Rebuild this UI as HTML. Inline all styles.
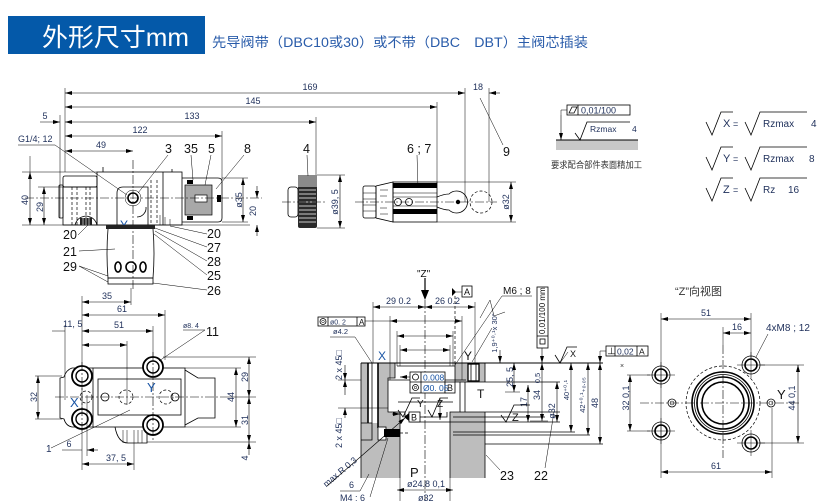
<!DOCTYPE html>
<html><head><meta charset="utf-8">
<style>
html,body{margin:0;padding:0;background:#fff;}
svg{display:block;}
text{font-family:"Liberation Sans","Noto Sans CJK SC",sans-serif;}
.l{stroke:#000;stroke-width:.8;fill:none}
.k{stroke:#000;stroke-width:1.6;fill:none}
.th{stroke:#000;stroke-width:.5;fill:none}
.g{stroke:#888;stroke-width:.8;fill:none}
.c{stroke:#000;stroke-width:.6;fill:none;stroke-dasharray:9 2 2 2}
.h{stroke:#000;stroke-width:.7;fill:none;stroke-dasharray:3 2}
.dm{stroke:#000;stroke-width:.6;fill:none;marker-start:url(#ar);marker-end:url(#ar)}
.da{stroke:#000;stroke-width:.6;fill:none;marker-end:url(#ar)}
.d{font-size:9px;fill:#1e2f5a}
.s{font-size:7.5px;fill:#1e2f5a}
.p{font-size:12.5px;fill:#111}
.b{fill:#1a55a5}
</style></head><body>
<svg width="827" height="501" viewBox="0 0 827 501">
<defs><marker id="ar" markerUnits="userSpaceOnUse" markerWidth="7" markerHeight="4" refX="7" refY="2" orient="auto-start-reverse"><path d="M0,0L7,2L0,4z" fill="#000"/></marker></defs>

<!-- HEADER -->
<rect x="8" y="16" width="197" height="38" fill="#0459a9"/>
<text x="42" y="46" font-size="25" fill="#fff" textLength="147" lengthAdjust="spacingAndGlyphs">外形尺寸mm</text>
<text x="212" y="47" font-size="13.5" fill="#2a5caa" textLength="376" lengthAdjust="spacingAndGlyphs">先导阀带（DBC10或30）或不带（DBC　DBT）主阀芯插装</text>

<!-- ===== TOP VIEW DIMENSIONS ===== -->
<line class="th" x1="65" y1="88" x2="65" y2="172"/>
<line class="dm" x1="65" y1="93" x2="465" y2="93"/><text class="d" x="310" y="90" text-anchor="middle">169</text>
<line class="dm" x1="65" y1="107" x2="437" y2="107"/><text class="d" x="253" y="104" text-anchor="middle">145</text>
<line class="dm" x1="65" y1="122" x2="316" y2="122"/><text class="d" x="192" y="119" text-anchor="middle">133</text>
<line class="dm" x1="65" y1="136" x2="222" y2="136"/><text class="d" x="140" y="133" text-anchor="middle">122</text>
<line class="dm" x1="65" y1="151" x2="133" y2="151"/><text class="d" x="101" y="148" text-anchor="middle">49</text>
<line class="da" x1="40" y1="122" x2="60" y2="122"/><text class="d" x="45" y="119" text-anchor="middle">5</text>
<line class="th" x1="60" y1="115" x2="60" y2="218"/>
<line class="th" x1="465" y1="88" x2="465" y2="202"/>
<line class="th" x1="489" y1="88" x2="489" y2="202"/>
<line class="th" x1="437" y1="102" x2="437" y2="182"/>
<line class="th" x1="316" y1="117" x2="316" y2="175"/>
<line class="th" x1="222" y1="131" x2="222" y2="180"/>
<line class="da" x1="500" y1="93" x2="489" y2="93"/><text class="d" x="478" y="90" text-anchor="middle">18</text>
<text class="p" x="503" y="156">9</text><line class="th" x1="503" y1="145" x2="480" y2="98"/>
<text x="18" y="142" font-size="9" fill="#1e2f5a">G1/4; 12</text>
<polyline class="th" points="18,145 55,145 127,195"/>

<!-- left dims 40 / 29 -->
<line class="th" x1="22" y1="172" x2="97" y2="172"/>
<line class="th" x1="22" y1="225" x2="250" y2="225"/>
<line class="th" x1="38" y1="187" x2="63" y2="187"/>
<line class="th" x1="30" y1="156" x2="30" y2="172"/>
<line class="dm" x1="30" y1="172" x2="30" y2="225"/>
<text class="d" x="25" y="203" text-anchor="middle" transform="rotate(-90 25 200)">40</text>
<line class="dm" x1="44" y1="187" x2="44" y2="225"/>
<text class="d" x="40" y="210" text-anchor="middle" transform="rotate(-90 40 207)">29</text>
<!-- right dims ø35 / 20 -->
<line class="th" x1="222" y1="178" x2="248" y2="178"/>
<line class="th" x1="222" y1="222" x2="248" y2="222"/>
<line class="dm" x1="243" y1="178" x2="243" y2="222"/>
<text class="d" x="239" y="203" text-anchor="middle" transform="rotate(-90 239 200)">ø35</text>
<line class="da" x1="257" y1="186" x2="257" y2="198"/>
<line class="da" x1="257" y1="236" x2="257" y2="225"/>
<text class="d" x="253" y="214" text-anchor="middle" transform="rotate(-90 253 211)">20</text>

<!-- ===== TOP VIEW BODY ===== -->
<rect x="97" y="172" width="85" height="53" class="l"/>
<rect x="63" y="176" width="34" height="11" rx="2" class="l"/>
<rect x="63" y="187" width="34" height="38" class="l"/>
<rect x="59" y="185" width="4" height="33" rx="1" class="l"/>
<line class="l" x1="163" y1="172" x2="163" y2="225"/>
<line class="h" x1="72" y1="187" x2="72" y2="225"/><line class="h" x1="77" y1="187" x2="77" y2="225"/>
<line class="h" x1="86" y1="187" x2="86" y2="225"/><line class="h" x1="90" y1="187" x2="90" y2="225"/>
<line class="h" x1="151" y1="180" x2="151" y2="225"/><line class="h" x1="157" y1="180" x2="157" y2="225"/>
<path class="l" d="M117,225 L117,193 Q117,187 123,187 L148,187 L148,225"/>
<path class="l" d="M137,217 A9,9 0 0 0 146,207"/>
<circle cx="133" cy="198" r="5" class="k"/>
<circle cx="133" cy="198" r="8" class="th"/>
<line class="l" x1="103" y1="172" x2="103" y2="167"/><line class="l" x1="172" y1="172" x2="172" y2="169"/>
<line class="th" x1="160" y1="215" x2="160" y2="225"/><line class="th" x1="165" y1="217" x2="165" y2="225"/><line class="th" x1="170" y1="219" x2="170" y2="225"/>
<path class="l" d="M75,225 Q77,217 86,216 Q95,217 97,225"/>
<rect x="80" y="218" width="12" height="7" fill="#222"/>
<line x1="83" y1="218" x2="83" y2="225" stroke="#fff" stroke-width=".6"/><line x1="86" y1="218" x2="86" y2="225" stroke="#fff" stroke-width=".6"/><line x1="89" y1="218" x2="89" y2="225" stroke="#fff" stroke-width=".6"/>
<text x="120" y="229" font-size="12" class="b">Y</text>
<!-- cap -->
<path class="l" d="M182,178 L218,178 Q222,178 222,182 L222,218 Q222,222 218,222 L182,222"/>
<rect x="185" y="185" width="27" height="30" fill="#a8a8a8" stroke="#000" stroke-width=".7"/>
<rect x="195" y="195" width="12" height="7" fill="#fff" stroke="#000" stroke-width=".7"/>
<rect x="217" y="195" width="4" height="7" fill="#000"/>
<rect x="187" y="180" width="6" height="4" fill="#000"/><rect x="187" y="216" width="6" height="4" fill="#000"/>
<line class="c" x1="25" y1="198" x2="262" y2="198"/>
<line class="c" x1="133" y1="160" x2="133" y2="290"/>
<!-- cartridge -->
<rect x="106" y="225" width="49" height="4" fill="#222"/>
<path class="l" d="M108,229 Q106,253 108,278 L153,278 Q155,253 153,229"/>
<rect x="108" y="278" width="45" height="6" class="l"/>
<ellipse cx="118" cy="267" rx="3" ry="5" class="k"/>
<circle cx="131" cy="267" r="5" class="k"/>
<ellipse cx="143" cy="267" rx="3" ry="5" class="k"/>
<!-- top-view labels -->
<text class="p" x="165" y="153">3</text><line class="th" x1="168" y1="155" x2="138" y2="193"/>
<text class="p" x="184" y="153">35</text><line class="th" x1="191" y1="155" x2="193" y2="180"/>
<text class="p" x="208" y="153">5</text><line class="th" x1="211" y1="155" x2="205" y2="185"/>
<text class="p" x="244" y="153">8</text><line class="th" x1="244" y1="155" x2="216" y2="189"/>
<text class="p" x="207" y="238">20</text><line class="th" x1="207" y1="234" x2="170" y2="226"/>
<text class="p" x="207" y="252">27</text><line class="th" x1="207" y1="247" x2="155" y2="228"/>
<text class="p" x="207" y="266">28</text><line class="th" x1="207" y1="261" x2="155" y2="231"/>
<text class="p" x="207" y="280">25</text><line class="th" x1="207" y1="275" x2="154" y2="234"/>
<text class="p" x="207" y="295">26</text><line class="th" x1="207" y1="290" x2="153" y2="283"/>
<text class="p" x="63" y="239">20</text><line class="th" x1="78" y1="235" x2="88" y2="225"/>
<text class="p" x="63" y="256">21</text><line class="th" x1="79" y1="251" x2="115" y2="249"/>
<text class="p" x="63" y="271">29</text><line class="th" x1="79" y1="266" x2="108" y2="276"/><line class="th" x1="79" y1="266" x2="108" y2="282"/>

<!-- knob 4 -->
<rect x="288" y="187" width="10" height="30" rx="3" class="l"/>
<rect x="298" y="175" width="19" height="53" rx="2" fill="#2a2a2a"/>
<rect x="298" y="175" width="19" height="12" fill="#8a8a8a"/>
<g stroke="#fff" stroke-width=".7">
<line x1="299" y1="190" x2="316" y2="190"/><line x1="299" y1="194" x2="316" y2="194"/><line x1="299" y1="198" x2="316" y2="198"/><line x1="299" y1="202" x2="316" y2="202"/><line x1="299" y1="206" x2="316" y2="206"/><line x1="299" y1="210" x2="316" y2="210"/><line x1="299" y1="214" x2="316" y2="214"/><line x1="299" y1="218" x2="316" y2="218"/><line x1="299" y1="222" x2="316" y2="222"/></g>
<line class="c" x1="282" y1="202" x2="326" y2="202"/>
<line class="th" x1="317" y1="175" x2="345" y2="175"/><line class="th" x1="317" y1="228" x2="345" y2="228"/>
<line class="dm" x1="340" y1="175" x2="340" y2="228"/>
<text class="d" x="335" y="205" text-anchor="middle" transform="rotate(-90 335 202)">ø39, 5</text>
<text class="p" x="303" y="153">4</text><line class="th" x1="307" y1="155" x2="308" y2="176"/>

<!-- knob 6;7 -->
<rect x="363" y="186" width="13" height="32" rx="2" class="l"/>
<line class="th" x1="363" y1="193" x2="376" y2="193"/><line class="th" x1="363" y1="199" x2="376" y2="199"/><line class="th" x1="363" y1="205" x2="376" y2="205"/><line class="th" x1="363" y1="211" x2="376" y2="211"/>
<path class="l" d="M376,186 L393,182 L393,222 L376,218Z"/>
<line class="th" x1="380" y1="190" x2="388" y2="190"/><line class="th" x1="380" y1="196" x2="387" y2="196"/><line class="th" x1="380" y1="208" x2="387" y2="208"/><line class="th" x1="380" y1="214" x2="388" y2="214"/>
<rect x="393" y="182" width="44" height="40" class="l"/>
<rect x="393" y="183" width="44" height="5" fill="#000"/>
<rect x="393" y="209" width="44" height="5" fill="#000"/>
<line class="th" x1="393" y1="193" x2="437" y2="193"/><line class="th" x1="393" y1="197" x2="437" y2="197"/><line class="th" x1="393" y1="206" x2="437" y2="206"/>
<circle cx="398" cy="202" r="3.5" class="l"/><circle cx="409" cy="202" r="3.5" class="l"/>
<path class="l" d="M437,197 Q444,194 449,194 A11,11 0 1 1 449,210 Q444,210 437,207"/>
<circle cx="458" cy="202" r="2.2" fill="#000"/>
<circle cx="481" cy="202" r="11" class="h"/>
<line class="c" x1="355" y1="202" x2="497" y2="202"/>
<line class="th" x1="437" y1="182" x2="516" y2="182"/><line class="th" x1="437" y1="222" x2="516" y2="222"/>
<line class="dm" x1="511" y1="182" x2="511" y2="222"/>
<text class="d" x="506" y="205" text-anchor="middle" transform="rotate(-90 506 202)">ø32</text>
<text class="p" x="407" y="153">6 ; 7</text><line class="th" x1="417" y1="155" x2="418" y2="188"/>

<!-- ===== UPPER RIGHT NOTES ===== -->
<rect x="567" y="105" width="63" height="10" class="l"/>
<line class="l" x1="578" y1="105" x2="578" y2="115"/>
<path class="l" d="M569,113 L572,107 L577,107 L574,113Z"/>
<text x="581" y="113.5" font-size="9" fill="#1e2f5a">0,01/100</text>
<polyline class="th" points="567,110 561,110 561,115"/>
<line class="da" x1="561" y1="115" x2="561" y2="140"/>
<rect x="556" y="140" width="82" height="10" fill="#c8c8c8"/>
<line x1="556" y1="140" x2="638" y2="140" stroke="#000" stroke-width="1"/>
<polyline class="l" points="575,133 580,140 587,122 630,122"/>
<text x="590" y="132" font-size="8.5" fill="#1e2f5a">Rzmax</text><text x="632" y="132" font-size="8.5" fill="#1e2f5a">4</text>
<text x="551" y="168" font-size="9" fill="#333" textLength="91" lengthAdjust="spacingAndGlyphs">要求配合部件表面精加工</text>

<g fill="#1e2f5a" font-size="11">
<polyline class="l" points="706,122 712,135 721,112 733,112"/>
<text x="723" y="127">X</text><text x="733" y="127" font-size="9">=</text>
<polyline class="l" points="745,122 751,135 760,112 807,112"/>
<text x="763" y="127" font-size="10">Rzmax</text><text x="811" y="127" font-size="10">4</text>
<polyline class="l" points="706,157 712,170 721,147 733,147"/>
<text x="723" y="162">Y</text><text x="733" y="162" font-size="9">=</text>
<polyline class="l" points="745,157 751,170 760,147 807,147"/>
<text x="763" y="162" font-size="10">Rzmax</text><text x="809" y="162" font-size="10">8</text>
<polyline class="l" points="706,188 712,201 721,178 733,178"/>
<text x="723" y="193">Z</text><text x="733" y="193" font-size="9">=</text>
<polyline class="l" points="745,188 751,201 760,178 807,178"/>
<text x="763" y="193" font-size="10">Rz</text><text x="788" y="193" font-size="10">16</text>
</g>

<!-- ===== BOTTOM-LEFT VIEW ===== -->
<line class="th" x1="82" y1="296" x2="82" y2="470"/>
<line class="th" x1="131" y1="288" x2="131" y2="305"/>
<line class="dm" x1="82" y1="302" x2="131" y2="302"/><text class="d" x="107" y="299" text-anchor="middle">35</text>
<line class="th" x1="165" y1="310" x2="165" y2="360"/>
<line class="dm" x1="82" y1="315" x2="165" y2="315"/><text class="d" x="122" y="312" text-anchor="middle">61</text>
<line class="th" x1="153" y1="326" x2="153" y2="358"/>
<line class="dm" x1="82" y1="331" x2="153" y2="331"/><text class="d" x="119" y="328" text-anchor="middle">51</text>
<line class="th" x1="52" y1="331" x2="65" y2="331"/>
<line class="th" x1="65" y1="325" x2="65" y2="400"/>
<text class="d" x="63" y="327">11, 5</text>
<line class="th" x1="127" y1="341" x2="127" y2="405"/>
<line class="dm" x1="82" y1="345" x2="127" y2="345"/>
<!-- body -->
<path class="l" d="M93,368 L72,368 Q66,370 64,377 L60,378 L60,418 L64,419 Q66,426 72,427 L93,427"/>
<rect x="93" y="368" width="92" height="59" class="l"/>
<rect x="98" y="379" width="83" height="36" class="l"/>
<path class="l" d="M185,370 L198,378 L215,378 L215,418 L198,418 L185,425"/>
<path class="l" d="M115,427 Q118,443 128,443 L147,443 L147,427"/>
<line class="th" x1="123" y1="430" x2="123" y2="443"/><line class="th" x1="127" y1="430" x2="127" y2="443"/><line class="th" x1="138" y1="430" x2="138" y2="443"/><line class="th" x1="142" y1="430" x2="142" y2="443"/>
<g fill="#fff">
<circle cx="82" cy="376" r="10" stroke="#000" stroke-width="1.8"/><circle cx="82" cy="376" r="6" stroke="#000" stroke-width="1.4"/>
<circle cx="82" cy="419" r="10" stroke="#000" stroke-width="1.8"/><circle cx="82" cy="419" r="6" stroke="#000" stroke-width="1.4"/>
<circle cx="153" cy="367" r="10" stroke="#000" stroke-width="1.8"/><circle cx="153" cy="367" r="6" stroke="#000" stroke-width="1.4"/>
<circle cx="153" cy="425" r="10" stroke="#000" stroke-width="1.8"/><circle cx="153" cy="425" r="6" stroke="#000" stroke-width="1.4"/>
</g>
<circle cx="105" cy="397" r="4" class="l"/><circle cx="175" cy="397" r="4" class="l"/>
<circle cx="86" cy="397" r="6" class="h"/><circle cx="126" cy="397" r="7" class="h"/><circle cx="166" cy="397" r="7" class="h"/>
<line class="c" x1="55" y1="397" x2="222" y2="397"/>
<line class="c" x1="82" y1="362" x2="82" y2="432"/><line class="c" x1="153" y1="352" x2="153" y2="440"/>
<text x="70" y="407" font-size="13" class="b">X</text>
<text x="147" y="392" font-size="13" class="b">Y</text>
<!-- dims -->
<line class="th" x1="35" y1="376" x2="62" y2="376"/><line class="th" x1="35" y1="419" x2="62" y2="419"/>
<line class="dm" x1="38" y1="376" x2="38" y2="419"/>
<text class="d" x="34" y="400" text-anchor="middle" transform="rotate(-90 34 397)">32</text>
<line class="th" x1="163" y1="357" x2="256" y2="357"/>
<line class="th" x1="185" y1="368" x2="241" y2="368"/><line class="th" x1="185" y1="427" x2="241" y2="427"/>
<line class="th" x1="222" y1="397" x2="256" y2="397"/>
<line class="th" x1="147" y1="442" x2="256" y2="442"/>
<line class="dm" x1="249" y1="357" x2="249" y2="397"/>
<text class="d" x="245" y="380" text-anchor="middle" transform="rotate(-90 245 377)">29</text>
<line class="dm" x1="236" y1="368" x2="236" y2="427"/>
<text class="d" x="231" y="400" text-anchor="middle" transform="rotate(-90 231 397)">44</text>
<line class="dm" x1="249" y1="397" x2="249" y2="442"/>
<text class="d" x="245" y="423" text-anchor="middle" transform="rotate(-90 245 420)">31</text>
<line class="da" x1="249" y1="455" x2="249" y2="442"/>
<text class="d" x="245" y="461" text-anchor="middle" transform="rotate(-90 245 458)">4</text>
<text x="183" y="328" font-size="7" fill="#1e2f5a">ø8. 4</text>
<polyline class="th" points="183,330 205,330 159,361"/>
<text class="p" x="206" y="336">11</text>
<text x="46" y="452" font-size="10" fill="#1e2f5a">1</text><line class="th" x1="51" y1="448" x2="130" y2="410"/>
<line class="th" x1="87" y1="395" x2="87" y2="456"/>
<line class="th" x1="62" y1="450" x2="82" y2="450"/><line class="da" x1="98" y1="450" x2="87" y2="450"/>
<text class="d" x="69" y="447" text-anchor="middle">6</text>
<line class="th" x1="134" y1="430" x2="134" y2="470"/>
<line class="dm" x1="82" y1="464" x2="134" y2="464"/><text class="d" x="116" y="461" text-anchor="middle">37, 5</text>

<!-- ===== SECTION VIEW ===== -->
<g fill="#bdbdbd">
<rect x="361" y="363" width="34" height="15"/>
<rect x="361" y="378" width="27" height="100"/>
<rect x="455" y="363" width="30" height="19"/>
<rect x="388" y="412" width="12" height="66"/>
<rect x="450" y="412" width="35" height="66"/>
</g>
<rect x="368" y="363" width="10" height="60" fill="#fff"/>
<rect x="361" y="423" width="17" height="55" fill="#bdbdbd"/>
<!-- outlines -->
<line x1="361" y1="363" x2="603" y2="363" stroke="#000" stroke-width="1"/>
<line class="k" x1="368" y1="363" x2="368" y2="423"/>
<line class="l" x1="372" y1="363" x2="372" y2="423"/>
<line class="k" x1="378" y1="363" x2="378" y2="428"/>
<polyline class="l" points="361,423 372,423 372,440 361,440"/>
<rect x="378" y="427" width="8" height="13" fill="#fff" stroke="#000" stroke-width=".8"/>
<rect x="384" y="429" width="16" height="8" fill="#000"/>
<line class="h" x1="400" y1="433" x2="408" y2="433"/>
<polyline class="l" points="395,363 395,378 388,378 388,412 400,412 400,478"/>
<polyline class="l" points="455,363 455,382 460,382 460,412 450,412 450,478"/>
<line class="l" x1="397" y1="366" x2="455" y2="366"/>
<line class="l" x1="388" y1="380" x2="466" y2="380"/>
<line class="l" x1="398" y1="402" x2="453" y2="402"/>
<polyline class="l" points="400,412 405,412 405,417 447,417 447,412"/>
<line class="l" x1="410" y1="422" x2="560" y2="422"/>
<line class="l" x1="460" y1="382" x2="560" y2="382"/>
<line class="l" x1="460" y1="412" x2="560" y2="412"/>
<line class="l" x1="465" y1="382" x2="465" y2="412"/>
<line class="l" x1="453" y1="417" x2="545" y2="417"/>
<line class="l" x1="453" y1="432" x2="575" y2="432"/>
<line class="l" x1="453" y1="435" x2="590" y2="435"/>
<line class="l" x1="485" y1="444" x2="603" y2="444"/>
<line class="l" x1="485" y1="363" x2="485" y2="382"/>
<line class="l" x1="485" y1="412" x2="485" y2="478"/>
<line class="l" x1="361" y1="363" x2="361" y2="478"/>
<rect x="468" y="364" width="11" height="17" fill="#fff" stroke="#000" stroke-width="1.3"/>
<line class="l" x1="471" y1="364" x2="471" y2="381"/><line class="l" x1="476" y1="364" x2="476" y2="381"/>
<line class="c" x1="425" y1="300" x2="425" y2="501"/>
<line class="h" x1="455" y1="296" x2="455" y2="363"/>
<line class="th" x1="400" y1="478" x2="400" y2="501"/><line class="th" x1="450" y1="478" x2="450" y2="501"/>
<!-- Z arrow & datum -->
<text x="417" y="277" font-size="10" fill="#111">"Z"</text>
<line x1="425" y1="278" x2="425" y2="292" stroke="#000" stroke-width="1.2"/>
<path d="M421,290 L429,290 L425,300Z" fill="#000"/>
<path d="M452,288 L456,292 L452,296Z" fill="#000"/>
<line class="th" x1="456" y1="292" x2="462" y2="292"/>
<rect x="462" y="286" width="10" height="11" class="l"/><text x="464" y="295" font-size="9" fill="#111">A</text>
<!-- top dims -->
<line class="th" x1="373" y1="302" x2="373" y2="363"/><line class="th" x1="475" y1="302" x2="475" y2="363"/>
<line class="dm" x1="373" y1="307" x2="425" y2="307"/><line class="dm" x1="425" y1="307" x2="475" y2="307"/>
<text class="d" x="386" y="304">29  0.2</text><text class="d" x="435" y="304">26  0.2</text>
<rect x="318" y="317" width="47" height="9" class="l"/>
<line class="l" x1="328" y1="317" x2="328" y2="326"/><line class="l" x1="357" y1="317" x2="357" y2="326"/>
<circle cx="323" cy="321.5" r="3" class="l"/><circle cx="323" cy="321.5" r="1.3" class="th"/>
<text x="330" y="324.5" font-size="7" fill="#1e2f5a">ø0. 2</text><text x="359" y="325" font-size="8" fill="#111">A</text>
<line class="th" x1="365" y1="321" x2="390" y2="321"/>
<line class="th" x1="390" y1="316" x2="390" y2="380"/><line class="th" x1="462" y1="316" x2="462" y2="380"/>
<line class="dm" x1="390" y1="321" x2="462" y2="321"/>
<line class="th" x1="397" y1="331" x2="397" y2="366"/><line class="th" x1="453" y1="331" x2="453" y2="366"/>
<line class="dm" x1="397" y1="336" x2="453" y2="336"/>
<line class="th" x1="400" y1="345" x2="400" y2="366"/><line class="th" x1="450" y1="345" x2="450" y2="366"/>
<line class="dm" x1="400" y1="350" x2="450" y2="350"/>
<text x="333" y="334" font-size="7.5" fill="#1e2f5a">ø4.2</text>
<polyline class="th" points="330,337 355,337 372,363"/>
<text x="378" y="360" font-size="12" class="b">X</text>
<text x="464" y="360" font-size="12" fill="#111">Y</text>
<text x="477" y="398" font-size="12" fill="#111">T</text>
<text x="410" y="477" font-size="13" fill="#111">P</text>
<text x="503" y="294" font-size="10" fill="#111">M6 ; 8</text>
<polyline class="th" points="502,296 532,296"/>
<line class="th" x1="502" y1="296" x2="455" y2="365"/>
<line class="th" x1="492" y1="328" x2="472" y2="362"/>
<polyline class="th" points="480,318 490,300 494,316 505,312"/>
<text class="s" x="497" y="333" text-anchor="middle" transform="rotate(-90 497 333)">1,9⁺⁰·¹x 30°</text>
<line class="da" x1="500" y1="350" x2="500" y2="363"/>
<line class="dm" x1="514" y1="363" x2="514" y2="392"/>
<text class="d" x="510" y="380" text-anchor="middle" transform="rotate(-90 510 377)">25, 5</text>
<line class="th" x1="505" y1="392" x2="520" y2="392"/>
<line class="dm" x1="528" y1="385" x2="528" y2="422"/>
<text class="d" x="524" y="405" text-anchor="middle" transform="rotate(-90 524 402)">17</text>
<!-- tolerance box -->
<rect x="410" y="372" width="35" height="21" fill="#fff" stroke="#000" stroke-width=".8"/>
<rect x="445" y="382" width="10" height="11" fill="#fff" stroke="#000" stroke-width=".8"/>
<line class="l" x1="410" y1="382" x2="445" y2="382"/><line class="l" x1="421" y1="372" x2="421" y2="393"/>
<circle cx="415.5" cy="377" r="3" class="l"/>
<circle cx="415.5" cy="387.5" r="3" class="l"/><circle cx="415.5" cy="387.5" r="1.3" class="th"/>
<text x="423" y="380.5" font-size="8.5" class="b">0.008</text>
<text x="423" y="391" font-size="8.5" class="b">Ø0. 05</text>
<text x="447" y="391" font-size="9" fill="#111">B</text>
<line class="da" x1="410" y1="377" x2="400" y2="377"/>
<polyline class="l" points="398,410 403,417 412,398 420,398"/><text x="417" y="407" font-size="10" fill="#111">Y</text>
<polyline class="l" points="428,410 432,417 440,398 448,398"/><text x="437" y="407" font-size="10" fill="#111">Z</text>
<line class="da" x1="440" y1="398" x2="440" y2="420"/>
<line class="da" x1="392" y1="414" x2="400" y2="414"/>
<path d="M404,417 L409,413 L409,421Z" fill="#000"/>
<rect x="409" y="412" width="11" height="10" fill="#fff" stroke="#000" stroke-width=".8"/><text x="411" y="420.5" font-size="9" fill="#111">B</text>
<polyline class="l" points="501,415 506,422 514,405 530,405"/><text x="512" y="421" font-size="11" fill="#111">Z</text>
<!-- left dims -->
<line class="th" x1="338" y1="380" x2="361" y2="380"/><line class="th" x1="338" y1="408" x2="388" y2="408"/>
<line class="da" x1="345" y1="365" x2="345" y2="380"/><line class="da" x1="345" y1="395" x2="345" y2="380"/>
<line class="da" x1="345" y1="418" x2="345" y2="408"/>
<text class="d" x="339" y="368" text-anchor="middle" transform="rotate(-90 339 365)">2 x 45□</text>
<text class="d" x="339" y="436" text-anchor="middle" transform="rotate(-90 339 433)">2 x 45□</text>
<text class="d" x="340" y="475" text-anchor="middle" transform="rotate(-40 340 472)">max R 0,3</text>
<line class="da" x1="327" y1="486" x2="405" y2="418"/>
<text class="d" x="349" y="488">6</text><polyline class="th" points="340,491 360,491 369,474"/>
<text class="d" x="340" y="501">M4 ; 6</text><line class="th" x1="370" y1="497" x2="388" y2="438"/>
<line class="dm" x1="397" y1="490" x2="453" y2="490"/>
<text class="d" x="407" y="487">ø24.8  0,1</text>
<text class="d" x="418" y="501">ø32</text>
<text class="p" x="500" y="480">23</text><line class="th" x1="500" y1="470" x2="486" y2="455"/>
<text class="p" x="534" y="480">22</text><line class="th" x1="545" y1="468" x2="554" y2="412"/>
<!-- right dims -->
<rect x="537" y="287" width="11" height="61" fill="#fff" stroke="#000" stroke-width=".8"/>
<line class="l" x1="537" y1="336" x2="548" y2="336"/><rect x="540" y="339" width="5" height="5" class="l"/>
<text x="545" y="334" font-size="8" fill="#111" transform="rotate(-90 545 334)">0,01/100 mm</text>
<line class="da" x1="542" y1="348" x2="542" y2="363"/>
<line class="dm" x1="542" y1="363" x2="542" y2="421"/>
<line class="th" x1="530" y1="421" x2="548" y2="421"/>
<text class="s" x="537" y="381" text-anchor="middle" transform="rotate(-90 537 378)">0,5</text>
<text class="d" x="537" y="398" text-anchor="middle" transform="rotate(-90 537 395)">34</text>
<line class="dm" x1="557" y1="382" x2="557" y2="422"/>
<text class="d" x="552" y="414" text-anchor="middle" transform="rotate(-90 552 411)">ø32</text>
<line class="dm" x1="571" y1="363" x2="571" y2="432"/>
<text class="s" x="566" y="393" text-anchor="middle" transform="rotate(-90 566 390)">40⁺⁰·¹</text>
<line class="dm" x1="588" y1="363" x2="588" y2="435"/>
<text class="s" x="582" y="398" text-anchor="middle" transform="rotate(-90 582 395)">42⁺⁰·¹₊₀.₀₅</text>
<line class="dm" x1="600" y1="363" x2="600" y2="444"/>
<text class="d" x="595" y="406" text-anchor="middle" transform="rotate(-90 595 403)">48</text>
<polyline class="l" points="555,355 560,363 567,347 577,347"/><text x="570" y="357" font-size="9" fill="#111">X</text>
<rect x="606" y="346" width="42" height="10" class="l"/>
<line class="l" x1="615" y1="346" x2="615" y2="356"/><line class="l" x1="637" y1="346" x2="637" y2="356"/>
<text x="607" y="354.5" font-size="9" fill="#111">⊥</text><text x="617" y="354.5" font-size="8.5" fill="#1e2f5a">0,02</text><text x="639" y="354.5" font-size="8.5" fill="#111">A</text>
<polyline class="th" points="606,351 600,351 600,356"/><line class="da" x1="600" y1="356" x2="600" y2="363"/>
<line class="th" x1="560" y1="363" x2="568" y2="352"/>

<!-- ===== Z VIEW ===== -->
<text x="675" y="295" font-size="11" fill="#333">“Z”向视图</text>
<text x="620" y="368" font-size="7" fill="#333">×</text>
<line class="th" x1="661" y1="313" x2="661" y2="478"/>
<line class="th" x1="751" y1="313" x2="751" y2="358"/>
<line class="th" x1="723" y1="327" x2="723" y2="345"/>
<line class="th" x1="772" y1="408" x2="772" y2="478"/>
<line class="dm" x1="661" y1="319" x2="751" y2="319"/><text class="d" x="706" y="316" text-anchor="middle">51</text>
<line class="dm" x1="723" y1="333" x2="751" y2="333"/><text class="d" x="737" y="330" text-anchor="middle">16</text>
<line class="dm" x1="661" y1="472" x2="772" y2="472"/><text class="d" x="716" y="469" text-anchor="middle">61</text>
<line class="th" x1="627" y1="375" x2="650" y2="375"/><line class="th" x1="627" y1="431" x2="650" y2="431"/>
<line class="dm" x1="630" y1="375" x2="630" y2="431"/>
<text class="d" x="626" y="401" text-anchor="middle" transform="rotate(-90 626 398)">32   0,1</text>
<line class="th" x1="760" y1="365" x2="804" y2="365"/><line class="th" x1="760" y1="443" x2="804" y2="443"/>
<line class="dm" x1="798" y1="365" x2="798" y2="443"/>
<text class="d" x="792" y="401" text-anchor="middle" transform="rotate(-90 792 398)">44   0,1</text>
<text x="777" y="399" font-size="13" fill="#111">Y</text>
<text x="766" y="331" font-size="10" fill="#1e2f5a">4xM8 ; 12</text>
<line class="th" x1="768" y1="334" x2="756" y2="357"/>
<circle cx="723" cy="403" r="37" class="h"/>
<circle cx="723" cy="403" r="31" stroke="#000" stroke-width="1.6" fill="none"/>
<circle cx="723" cy="403" r="28.5" class="l"/>
<circle cx="723" cy="403" r="26" stroke="#000" stroke-width="1.6" fill="none"/>
<circle cx="723" cy="403" r="21" stroke="#000" stroke-width="1.6" fill="none"/>
<line class="c" x1="640" y1="403" x2="800" y2="403"/>
<line class="c" x1="723" y1="345" x2="723" y2="458"/>
<g>
<circle cx="661" cy="375" r="9" class="l"/><circle cx="661" cy="375" r="6" class="k"/>
<circle cx="661" cy="431" r="9" class="l"/><circle cx="661" cy="431" r="6" class="k"/>
<circle cx="751" cy="365" r="9" class="l"/><circle cx="751" cy="365" r="6" class="k"/>
<circle cx="751" cy="443" r="9" class="l"/><circle cx="751" cy="443" r="6" class="k"/>
<line class="th" x1="647" y1="375" x2="675" y2="375"/><line class="th" x1="661" y1="362" x2="661" y2="388"/>
<line class="th" x1="647" y1="431" x2="675" y2="431"/><line class="th" x1="661" y1="418" x2="661" y2="444"/>
<line class="th" x1="737" y1="365" x2="765" y2="365"/><line class="th" x1="751" y1="352" x2="751" y2="378"/>
<line class="th" x1="737" y1="443" x2="765" y2="443"/><line class="th" x1="751" y1="430" x2="751" y2="456"/>
</g>
<circle cx="672" cy="403" r="4" class="l"/><circle cx="672" cy="403" r="2" class="th"/>
<circle cx="771" cy="403" r="4" class="l"/><circle cx="771" cy="403" r="2" class="th"/>
</svg>
</body></html>
